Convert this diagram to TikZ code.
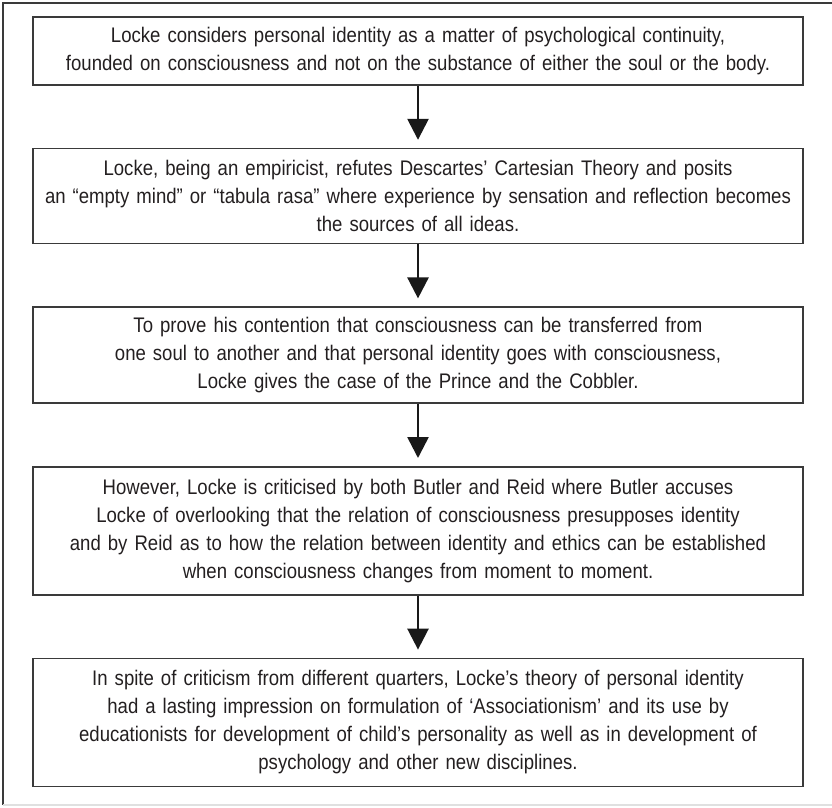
\documentclass[tikz,border=0pt]{standalone}
\usepackage{fontspec}
\setmainfont{Liberation Sans}[FakeStretch=0.88]
\usetikzlibrary{positioning, arrows.meta}
\definecolor{inkgray}{HTML}{231F20}
\definecolor{linegray}{HTML}{3A3A3A}
\tikzset{
	>={Triangle[length=21pt, width=21pt]}, % solid black arrow heads
	node distance=62pt, % gap between two boxes
	textbox/.style={draw=linegray, line width=1.6pt, minimum width=770pt,
		text width=760pt, align=center, inner xsep=5pt, text=inkgray,
		font=\fontsize{21.1}{28}\selectfont}, % every box of the chart
	flow/.style={->, line width=2.6pt, draw=black!90, shorten >=8pt}, % links between boxes
}
\begin{document}
\begin{tikzpicture}[x=1pt, y=-1pt]
	\useasboundingbox (0,0) rectangle (832,807);
	% frame round the chart
	\coordinate (f1) at (3,805);
	\coordinate (f2) at (3,3);
	\coordinate (f3) at (832,3);
	\coordinate (f4) at (832,805);
	\draw[linegray, line width=1.5pt] (f1) -- (f2) -- (f3);
	\draw[black!12, line width=1.5pt] (f1) -- (f4);

	\node[textbox, minimum height=68pt] at (418,51) (lock) {Locke considers personal identity as a matter of psychological continuity,\\
		founded on consciousness and not on the substance of either the soul or the body.};
	\node[textbox, minimum height=95pt, below=of lock] (empir) {Locke, being an empiricist, refutes Descartes’ Cartesian Theory and posits\\
		an “empty mind” or “tabula rasa” where experience by sensation and reflection becomes\\
		the sources of all ideas.};
	\node[textbox, minimum height=96pt, below=of empir] (proof) {To prove his contention that consciousness can be transferred from\\
		one soul to another and that personal identity goes with consciousness,\\
		Locke gives the case of the Prince and the Cobbler.};
	\node[textbox, minimum height=128pt, below=of proof] (critic) {However, Locke is criticised by both Butler and Reid where Butler accuses\\
		Locke of overlooking that the relation of consciousness presupposes identity\\
		and by Reid as to how the relation between identity and ethics can be established\\
		when consciousness changes from moment to moment.};
	\node[textbox, minimum height=128pt, below=of critic] (legacy) {In spite of criticism from different quarters, Locke’s theory of personal identity\\
		had a lasting impression on formulation of ‘Associationism’ and its use by\\
		educationists for development of child’s personality as well as in development of\\
		psychology and other new disciplines.};

	\draw[flow] (lock) -- (empir);
	\draw[flow] (empir) -- (proof);
	\draw[flow] (proof) -- (critic);
	\draw[flow] (critic) -- (legacy);
\end{tikzpicture}
\end{document}
